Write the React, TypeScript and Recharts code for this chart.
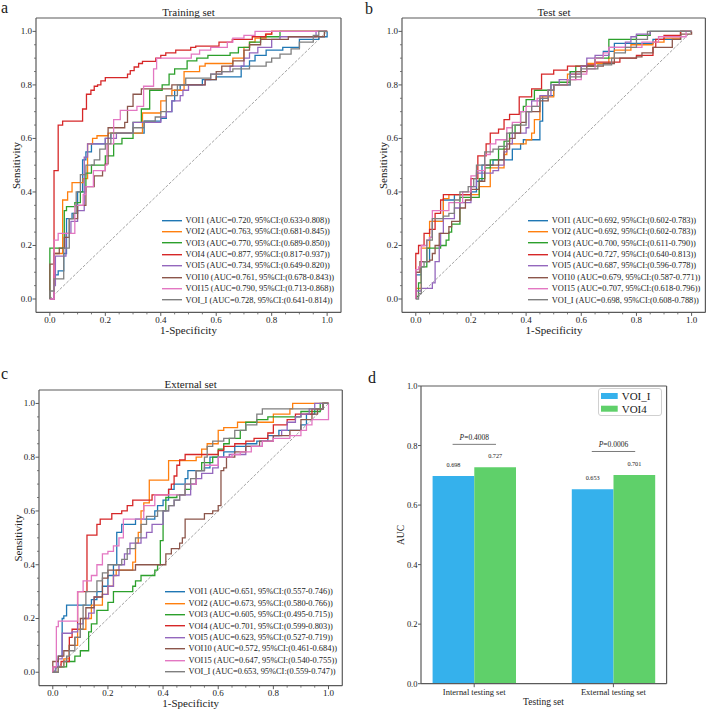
import React from 'react';
import { LineChart, Line, XAxis, YAxis, ReferenceLine, Legend, BarChart, Bar, LabelList } from 'recharts';

const FONT = "'Liberation Serif', 'Times New Roman', Times, serif";
const FRAME = '#5a5a5a';
const INK = '#1a1a1a';

const models = ['VOI1', 'VOI2', 'VOI3', 'VOI4', 'VOI5', 'VOI10', 'VOI15', 'VOI_I'];
const modelColors = ['#1f77b4', '#ff7f0e', '#2ca02c', '#d62728', '#9467bd', '#8c564b', '#e377c2', '#7f7f7f'];

// AUC + 95% CI per model, one set of arrays per cohort
const trainAuc = [0.720, 0.763, 0.770, 0.877, 0.734, 0.761, 0.790, 0.728];
const trainLo = [0.633, 0.681, 0.689, 0.817, 0.649, 0.678, 0.713, 0.641];
const trainHi = [0.808, 0.845, 0.850, 0.937, 0.820, 0.843, 0.868, 0.814];

const testAuc = [0.692, 0.692, 0.700, 0.727, 0.687, 0.679, 0.707, 0.698];
const testLo = [0.602, 0.602, 0.611, 0.640, 0.596, 0.587, 0.618, 0.608];
const testHi = [0.783, 0.783, 0.790, 0.813, 0.778, 0.771, 0.796, 0.788];

const extAuc = [0.651, 0.673, 0.605, 0.701, 0.623, 0.572, 0.647, 0.653];
const extLo = [0.557, 0.580, 0.495, 0.599, 0.527, 0.461, 0.540, 0.559];
const extHi = [0.746, 0.766, 0.715, 0.803, 0.719, 0.684, 0.755, 0.747];

// ROC points [fpr, tpr] (tpr reached at that fpr)
const trainCurves: number[][][] = [
  // VOI1
  [[0,0],[0.015,0.09],[0.03,0.105],[0.05,0.17],[0.06,0.3],[0.08,0.32],[0.1,0.4],[0.118,0.52],[0.13,0.55],[0.15,0.58],[0.2,0.6],[0.22,0.62],[0.34,0.665],[0.4,0.675],[0.42,0.7],[0.44,0.74],[0.45,0.78],[0.47,0.8],[0.55,0.82],[0.6,0.83],[0.69,0.87],[0.72,0.89],[0.74,0.91],[0.78,0.93],[0.84,0.94],[0.9,0.97],[0.97,0.98],[1,1]],
  // VOI2
  [[0,0],[0.015,0.17],[0.046,0.37],[0.064,0.4],[0.08,0.435],[0.12,0.45],[0.136,0.58],[0.154,0.6],[0.17,0.61],[0.21,0.62],[0.334,0.695],[0.4,0.74],[0.42,0.76],[0.44,0.78],[0.484,0.85],[0.54,0.87],[0.56,0.88],[0.66,0.9],[0.7,0.94],[0.72,0.96],[0.74,0.975],[0.78,0.99],[0.8,1],[1,1]],
  // VOI3
  [[0,0],[0,0.19],[0.052,0.33],[0.06,0.345],[0.09,0.36],[0.11,0.4],[0.13,0.47],[0.15,0.5],[0.2,0.535],[0.23,0.58],[0.26,0.6],[0.3,0.66],[0.33,0.71],[0.36,0.78],[0.405,0.8],[0.43,0.84],[0.45,0.86],[0.495,0.89],[0.53,0.9],[0.57,0.91],[0.65,0.92],[0.68,0.94],[0.72,0.96],[0.76,0.98],[0.83,1],[1,1]],
  // VOI4
  [[0,0],[0.015,0.48],[0.03,0.65],[0.046,0.665],[0.118,0.71],[0.132,0.765],[0.148,0.78],[0.16,0.795],[0.172,0.8],[0.184,0.815],[0.2,0.827],[0.28,0.84],[0.29,0.853],[0.304,0.867],[0.32,0.88],[0.334,0.888],[0.382,0.9],[0.4,0.91],[0.418,0.92],[0.454,0.93],[0.508,0.94],[0.526,0.945],[0.61,0.96],[0.658,0.97],[0.73,0.98],[0.778,0.99],[0.8,1],[1,1]],
  // VOI5
  [[0,0],[0.015,0.05],[0.02,0.16],[0.058,0.245],[0.076,0.29],[0.1,0.33],[0.124,0.53],[0.136,0.58],[0.2,0.6],[0.24,0.62],[0.3,0.66],[0.4,0.68],[0.42,0.7],[0.44,0.74],[0.47,0.76],[0.48,0.78],[0.5,0.8],[0.56,0.82],[0.58,0.84],[0.62,0.85],[0.65,0.87],[0.7,0.9],[0.72,0.92],[0.75,0.94],[0.8,0.97],[0.83,0.98],[0.96,1],[1,1]],
  // VOI10
  [[0,0],[0,0.13],[0.015,0.17],[0.034,0.19],[0.052,0.23],[0.07,0.3],[0.1,0.35],[0.13,0.42],[0.16,0.46],[0.19,0.48],[0.2,0.505],[0.21,0.64],[0.27,0.66],[0.28,0.72],[0.3,0.765],[0.33,0.785],[0.44,0.8],[0.56,0.82],[0.6,0.85],[0.62,0.87],[0.66,0.89],[0.7,0.93],[0.72,0.95],[0.76,0.97],[0.86,0.98],[0.99,1],[1,1]],
  // VOI15
  [[0,0],[0.015,0.22],[0.03,0.245],[0.09,0.35],[0.12,0.39],[0.13,0.42],[0.157,0.48],[0.2,0.5],[0.206,0.58],[0.23,0.67],[0.254,0.705],[0.314,0.72],[0.338,0.795],[0.374,0.86],[0.385,0.9],[0.51,0.915],[0.54,0.93],[0.58,0.94],[0.64,0.96],[0.66,0.975],[0.7,0.985],[0.74,1],[1,1]],
  // VOI_I
  [[0,0],[0,0.03],[0.015,0.075],[0.05,0.19],[0.07,0.3],[0.085,0.32],[0.095,0.4],[0.11,0.465],[0.13,0.5],[0.16,0.52],[0.18,0.56],[0.2,0.58],[0.22,0.62],[0.3,0.64],[0.34,0.665],[0.38,0.68],[0.4,0.7],[0.42,0.76],[0.46,0.8],[0.49,0.825],[0.58,0.84],[0.62,0.85],[0.66,0.86],[0.72,0.87],[0.78,0.885],[0.8,0.9],[0.83,0.915],[0.87,0.935],[0.9,0.96],[0.95,0.985],[0.97,1],[1,1]],
];

const testCurves: number[][][] = [
  // VOI1
  [[0,0],[0,0.09],[0.02,0.14],[0.05,0.23],[0.06,0.29],[0.1,0.37],[0.14,0.39],[0.2,0.4],[0.22,0.44],[0.24,0.5],[0.28,0.52],[0.35,0.56],[0.38,0.58],[0.39,0.595],[0.45,0.665],[0.46,0.76],[0.5,0.8],[0.56,0.85],[0.6,0.87],[0.65,0.9],[0.68,0.925],[0.72,0.955],[0.86,0.97],[0.96,1],[1,1]],
  // VOI2
  [[0,0],[0,0.04],[0.02,0.19],[0.05,0.29],[0.1,0.375],[0.12,0.39],[0.23,0.42],[0.27,0.49],[0.32,0.54],[0.33,0.58],[0.4,0.595],[0.42,0.62],[0.43,0.67],[0.45,0.755],[0.5,0.8],[0.55,0.84],[0.6,0.87],[0.62,0.88],[0.7,0.9],[0.72,0.93],[0.78,0.95],[0.86,0.96],[0.9,0.975],[0.96,1],[1,1]],
  // VOI3
  [[0,0],[0,0.01],[0.01,0.06],[0.02,0.12],[0.04,0.19],[0.09,0.2],[0.11,0.22],[0.12,0.25],[0.13,0.28],[0.16,0.38],[0.23,0.45],[0.25,0.49],[0.27,0.52],[0.3,0.56],[0.32,0.59],[0.34,0.62],[0.36,0.65],[0.38,0.7],[0.39,0.72],[0.4,0.745],[0.43,0.78],[0.49,0.81],[0.56,0.85],[0.58,0.87],[0.65,0.9],[0.7,0.97],[0.8,0.985],[0.85,1],[1,1]],
  // VOI4
  [[0,0],[0,0.17],[0.01,0.2],[0.03,0.245],[0.05,0.26],[0.07,0.32],[0.09,0.37],[0.1,0.39],[0.2,0.45],[0.225,0.535],[0.255,0.58],[0.27,0.62],[0.3,0.635],[0.32,0.67],[0.34,0.69],[0.375,0.755],[0.42,0.785],[0.456,0.84],[0.5,0.855],[0.55,0.87],[0.62,0.875],[0.65,0.885],[0.74,0.9],[0.8,0.91],[0.86,0.94],[0.87,0.97],[0.9,0.985],[0.96,1],[1,1]],
  // VOI5
  [[0,0],[0,0.03],[0.02,0.04],[0.06,0.06],[0.07,0.14],[0.085,0.2],[0.09,0.245],[0.1,0.3],[0.14,0.34],[0.16,0.36],[0.2,0.42],[0.22,0.47],[0.28,0.48],[0.3,0.5],[0.32,0.55],[0.33,0.58],[0.35,0.62],[0.4,0.64],[0.41,0.7],[0.42,0.74],[0.45,0.76],[0.49,0.8],[0.52,0.82],[0.56,0.84],[0.6,0.87],[0.62,0.9],[0.65,0.91],[0.7,0.94],[0.76,0.96],[0.78,0.98],[0.8,0.99],[0.85,1],[1,1]],
  // VOI10
  [[0,0],[0,0.1],[0.015,0.14],[0.05,0.145],[0.06,0.17],[0.07,0.2],[0.085,0.245],[0.12,0.27],[0.13,0.29],[0.16,0.34],[0.18,0.37],[0.2,0.41],[0.23,0.44],[0.25,0.5],[0.3,0.52],[0.32,0.56],[0.34,0.6],[0.36,0.62],[0.38,0.66],[0.4,0.7],[0.45,0.74],[0.48,0.78],[0.5,0.8],[0.55,0.82],[0.58,0.85],[0.62,0.87],[0.68,0.88],[0.72,0.9],[0.8,0.905],[0.82,0.92],[0.86,0.94],[0.93,0.97],[0.96,0.99],[1,1]],
  // VOI15
  [[0,0],[0,0.11],[0.01,0.12],[0.02,0.2],[0.04,0.22],[0.05,0.23],[0.06,0.33],[0.12,0.36],[0.17,0.4],[0.2,0.46],[0.22,0.48],[0.25,0.54],[0.27,0.58],[0.29,0.595],[0.33,0.64],[0.35,0.66],[0.38,0.7],[0.4,0.72],[0.44,0.75],[0.48,0.78],[0.5,0.8],[0.55,0.82],[0.6,0.84],[0.62,0.86],[0.65,0.9],[0.68,0.92],[0.7,0.94],[0.82,0.96],[0.88,0.98],[0.98,1],[1,1]],
  // VOI_I
  [[0,0],[0.01,0.02],[0.02,0.12],[0.03,0.14],[0.04,0.22],[0.06,0.3],[0.1,0.31],[0.12,0.32],[0.14,0.37],[0.16,0.4],[0.19,0.42],[0.21,0.45],[0.22,0.5],[0.25,0.55],[0.28,0.56],[0.3,0.57],[0.33,0.62],[0.35,0.65],[0.4,0.7],[0.42,0.72],[0.45,0.75],[0.48,0.78],[0.5,0.8],[0.56,0.83],[0.6,0.86],[0.66,0.875],[0.71,0.9],[0.72,0.92],[0.76,0.94],[0.8,0.97],[0.84,1],[1,1]],
];

const extCurves: number[][][] = [
  // VOI1
  [[0,0],[0.01,0.02],[0.02,0.06],[0.034,0.2],[0.04,0.21],[0.05,0.25],[0.14,0.27],[0.16,0.3],[0.18,0.32],[0.2,0.36],[0.22,0.4],[0.232,0.52],[0.25,0.55],[0.3,0.57],[0.37,0.6],[0.38,0.62],[0.4,0.64],[0.42,0.68],[0.44,0.7],[0.48,0.72],[0.49,0.75],[0.55,0.76],[0.57,0.8],[0.62,0.82],[0.66,0.84],[0.7,0.85],[0.74,0.86],[0.78,0.88],[0.82,0.9],[0.9,0.92],[0.92,0.96],[0.95,0.98],[0.98,1],[1,1]],
  // VOI2
  [[0,0],[0.02,0.02],[0.04,0.05],[0.06,0.1],[0.09,0.16],[0.12,0.2],[0.14,0.25],[0.18,0.29],[0.2,0.32],[0.22,0.36],[0.23,0.38],[0.29,0.41],[0.3,0.48],[0.31,0.52],[0.32,0.6],[0.33,0.63],[0.35,0.715],[0.42,0.787],[0.52,0.8],[0.54,0.83],[0.56,0.85],[0.6,0.9],[0.62,0.91],[0.67,0.93],[0.8,0.96],[0.86,0.98],[0.87,1],[1,1]],
  // VOI3
  [[0,0],[0.01,0.02],[0.05,0.04],[0.08,0.06],[0.1,0.08],[0.13,0.15],[0.14,0.18],[0.16,0.23],[0.2,0.26],[0.22,0.3],[0.29,0.32],[0.3,0.34],[0.32,0.36],[0.37,0.38],[0.38,0.4],[0.39,0.49],[0.4,0.6],[0.41,0.65],[0.45,0.66],[0.48,0.68],[0.5,0.7],[0.52,0.75],[0.54,0.78],[0.58,0.8],[0.6,0.83],[0.62,0.85],[0.64,0.87],[0.68,0.9],[0.7,0.93],[0.74,0.94],[0.78,0.95],[0.9,0.97],[0.97,1],[1,1]],
  // VOI4
  [[0,0],[0,0.02],[0.03,0.04],[0.06,0.13],[0.07,0.16],[0.09,0.3],[0.124,0.51],[0.16,0.55],[0.172,0.57],[0.214,0.59],[0.25,0.6],[0.27,0.62],[0.29,0.64],[0.36,0.66],[0.42,0.68],[0.43,0.7],[0.44,0.73],[0.45,0.77],[0.46,0.79],[0.48,0.81],[0.6,0.825],[0.62,0.84],[0.66,0.85],[0.7,0.86],[0.73,0.87],[0.78,0.89],[0.8,0.92],[0.85,0.94],[0.88,0.96],[0.94,0.98],[0.98,1],[1,1]],
  // VOI5
  [[0,0],[0.01,0.02],[0.02,0.05],[0.034,0.145],[0.07,0.15],[0.09,0.18],[0.11,0.2],[0.13,0.22],[0.15,0.28],[0.18,0.29],[0.2,0.32],[0.22,0.36],[0.24,0.4],[0.26,0.44],[0.28,0.48],[0.32,0.5],[0.34,0.52],[0.36,0.55],[0.4,0.6],[0.42,0.62],[0.44,0.64],[0.46,0.66],[0.5,0.7],[0.52,0.72],[0.54,0.74],[0.58,0.76],[0.6,0.8],[0.64,0.81],[0.7,0.84],[0.76,0.86],[0.8,0.88],[0.83,0.9],[0.85,0.93],[0.88,0.95],[0.9,0.96],[0.93,0.98],[0.95,1],[1,1]],
  // VOI10
  [[0,0],[0,0.04],[0.02,0.06],[0.04,0.08],[0.06,0.1],[0.08,0.13],[0.1,0.2],[0.12,0.24],[0.15,0.28],[0.18,0.35],[0.2,0.38],[0.3,0.4],[0.41,0.44],[0.43,0.46],[0.46,0.48],[0.47,0.5],[0.48,0.57],[0.55,0.59],[0.58,0.6],[0.6,0.62],[0.61,0.75],[0.62,0.76],[0.63,0.8],[0.66,0.82],[0.7,0.84],[0.75,0.86],[0.8,0.88],[0.86,0.9],[0.9,0.94],[0.94,0.96],[0.96,0.98],[0.98,1],[1,1]],
  // VOI15
  [[0,0],[0,0.02],[0.013,0.17],[0.02,0.19],[0.09,0.3],[0.11,0.34],[0.14,0.36],[0.16,0.4],[0.18,0.44],[0.2,0.45],[0.22,0.47],[0.24,0.5],[0.256,0.57],[0.33,0.62],[0.37,0.66],[0.48,0.7],[0.52,0.75],[0.55,0.77],[0.6,0.8],[0.65,0.81],[0.68,0.82],[0.72,0.84],[0.76,0.86],[0.8,0.87],[0.86,0.88],[0.9,0.9],[0.92,0.92],[0.94,0.94],[1,1]],
  // VOI_I
  [[0,0],[0.02,0.02],[0.04,0.04],[0.05,0.06],[0.06,0.08],[0.08,0.13],[0.1,0.16],[0.11,0.25],[0.12,0.3],[0.16,0.34],[0.18,0.37],[0.2,0.4],[0.25,0.42],[0.27,0.46],[0.3,0.5],[0.32,0.55],[0.34,0.58],[0.38,0.6],[0.42,0.62],[0.44,0.64],[0.46,0.66],[0.48,0.7],[0.5,0.72],[0.52,0.75],[0.55,0.8],[0.56,0.84],[0.58,0.86],[0.62,0.87],[0.66,0.9],[0.7,0.92],[0.74,0.96],[0.76,0.98],[0.98,1],[1,1]],
];

const rocTicks = [0, 0.05, 0.1, 0.15, 0.2, 0.25, 0.3, 0.35, 0.4, 0.45, 0.5, 0.55, 0.6, 0.65, 0.7, 0.75, 0.8, 0.85, 0.9, 0.95, 1];

// panel d
const barGroups = ['Internal testing set', 'External testing set'];
const barVoiI = [0.698, 0.653];
const barVoi4 = [0.727, 0.701];
const pValues = ['0.4008', '0.0006'];
const pLineLevel = [0.804, 0.78];
const barTicks = [0, 0.2, 0.4, 0.6, 0.8, 1];
const BLUE = '#35b1ec';
const GREEN = '#5fd06a';

const isMajor = (v: number) => Math.round(v * 100) % 20 === 0;

const RocTickX = (props: any) => {
  const { x, y, payload } = props;
  const v = payload.value;
  const major = isMajor(v);
  return (
    <g>
      <line x1={x} x2={x} y1={y} y2={y + (major ? 3.5 : 2)} stroke={FRAME} strokeWidth={major ? 1 : 0.8} />
      {major && (
        <text x={x} y={y + 10.5} textAnchor="middle" fontSize={9} fontFamily={FONT} fill={INK}>{v.toFixed(1)}</text>
      )}
    </g>
  );
};

const RocTickY = (props: any) => {
  const { x, y, payload } = props;
  const v = payload.value;
  const major = isMajor(v);
  return (
    <g>
      <line x1={x - (major ? 3.5 : 2)} x2={x} y1={y} y2={y} stroke={FRAME} strokeWidth={major ? 1 : 0.8} />
      {major && (
        <text x={x - 4} y={y + 3} textAnchor="end" fontSize={9} fontFamily={FONT} fill={INK}>{v.toFixed(1)}</text>
      )}
    </g>
  );
};

const RocLegend = ({ payload }: any) => {
  const items = [...(payload || [])].sort(
    (a: any, b: any) => models.indexOf(String(a.value).split(' ')[0]) - models.indexOf(String(b.value).split(' ')[0])
  );
  return (
    <div style={{ fontFamily: FONT, fontSize: 8.4, color: INK }}>
      {items.map((it: any) => (
        <div key={it.value} style={{ display: 'flex', alignItems: 'center', height: 11.4, whiteSpace: 'nowrap' }}>
          <svg width={23.5} height={11.4} style={{ flex: 'none' }}>
            <line x1={0} x2={20} y1={5.7} y2={5.7} stroke={it.color} strokeWidth={1.4} />
          </svg>
          <span>{it.value}</span>
        </div>
      ))}
    </div>
  );
};

interface RocProps {
  fx: number; fy: number; fw: number; fh: number;
  curves: number[][][]; auc: number[]; lo: number[]; hi: number[];
}

const PAD_L = 34, PAD_T = 4, PAD_R = 4, PAD_B = 28;

function RocPanel({ fx, fy, fw, fh, curves, auc, lo, hi }: RocProps) {
  const series = models.map((m, i) => ({
    name: `${m} (AUC=${auc[i].toFixed(3)}, 95%CI:(${lo[i].toFixed(3)}-${hi[i].toFixed(3)}))`,
    color: modelColors[i],
    data: curves[i].map(([x, y]) => ({ x, y })),
  }));
  const axisLine = { stroke: FRAME, strokeWidth: 1.2 };
  return (
    <div style={{ position: 'absolute', left: fx - PAD_L, top: fy - PAD_T }}>
      <LineChart width={fw + PAD_L + PAD_R} height={fh + PAD_T + PAD_B} margin={{ top: PAD_T - 1, right: PAD_R - 1, left: 0, bottom: 0 }}>
        <XAxis dataKey="x" type="number" domain={[-0.05, 1.05]} allowDataOverflow ticks={rocTicks} interval={0}
          tickSize={0} tickMargin={0} tickLine={false} tick={RocTickX} height={PAD_B} axisLine={axisLine} />
        <XAxis xAxisId="top" orientation="top" type="number" domain={[0, 1]} height={1} tick={false} tickLine={false} axisLine={axisLine} />
        <YAxis type="number" domain={[-0.05, 1.05]} allowDataOverflow ticks={rocTicks} interval={0}
          tickSize={0} tickMargin={0} tickLine={false} tick={RocTickY} width={PAD_L} axisLine={axisLine} />
        <YAxis yAxisId="right" orientation="right" type="number" domain={[0, 1]} width={1} tick={false} tickLine={false} axisLine={axisLine} />
        <ReferenceLine segment={[{ x: 0, y: 0 }, { x: 1, y: 1 }]} stroke="#8a8a8a" strokeDasharray="3 1.6" strokeWidth={0.8} />
        {series.map((s) => (
          <Line key={s.name} data={s.data} dataKey="y" name={s.name} type="stepAfter" stroke={s.color}
            strokeWidth={1.3} dot={false} activeDot={false} isAnimationActive={false} />
        ))}
        <Legend layout="vertical" align="center" verticalAlign="middle" content={RocLegend}
          wrapperStyle={{ left: PAD_L + 126, top: PAD_T + 202 - 5.7, width: 200 }} />
      </LineChart>
    </div>
  );
}

const BarTickX = (props: any) => {
  const { x, y, payload } = props;
  return (
    <g>
      <line x1={x} x2={x} y1={y} y2={y + 3.5} stroke={FRAME} />
      <text x={x} y={y + 11} textAnchor="middle" fontSize={8.5} fontFamily={FONT} fill={INK}>{payload.value}</text>
    </g>
  );
};

const BarTickY = (props: any) => {
  const { x, y, payload } = props;
  return (
    <g>
      <line x1={x - 3} x2={x} y1={y} y2={y} stroke={FRAME} />
      <text x={x - 3.5} y={y + 3} textAnchor="end" fontSize={8.5} fontFamily={FONT} fill={INK}>{Number(payload.value).toFixed(1)}</text>
    </g>
  );
};

const PAnnot = (props: any) => {
  const vb = props.viewBox ?? props;
  const { x, y, height } = vb;
  const idx = props.index ?? barVoi4.indexOf(Number(props.value));
  if (idx < 0 || !height) return null;
  const k = height / barVoi4[idx];
  const base = y + height;
  const ly = base - pLineLevel[idx] * k;
  return (
    <g>
      <line x1={x - 21.7} x2={x + 21.7} y1={ly} y2={ly} stroke="#7a7a7a" strokeWidth={1} />
      <text x={x} y={ly - 4} textAnchor="middle" fontSize={7.5} fontFamily={FONT} fill={INK}>
        <tspan fontStyle="italic">P</tspan>={pValues[idx]}
      </text>
    </g>
  );
};

const BarLegend = () => (
  <svg width={64} height={28}>
    <rect x={0.5} y={0.5} width={63} height={27} rx={2.5} fill="#fff" stroke="#d0d0d0" />
    <rect x={3} y={5} width={16.7} height={6} fill={BLUE} />
    <text x={23.7} y={12.3} fontSize={11} fontFamily={FONT} fill={INK}>VOI_I</text>
    <rect x={3} y={17.7} width={16.7} height={6} fill={GREEN} />
    <text x={23.7} y={25} fontSize={11} fontFamily={FONT} fill={INK}>VOI4</text>
  </svg>
);

function AucBars() {
  const fx = 420.7, fy = 386, fw = 245.6, fh = 297.7;
  const data = barGroups.map((g, i) => ({ name: g, voiI: barVoiI[i], voi4: barVoi4[i] }));
  const axisLine = { stroke: FRAME, strokeWidth: 1.2 };
  return (
    <div style={{ position: 'absolute', left: fx - PAD_L, top: fy - PAD_T }}>
      <BarChart width={fw + PAD_L + PAD_R} height={fh + PAD_T + PAD_B} data={data}
        margin={{ top: PAD_T - 1, right: PAD_R - 1, left: 0, bottom: 0 }} barGap={0} barSize={41.7}>
        <XAxis dataKey="name" padding={{ left: -16.4, right: -16.4 }} interval={0} tickSize={0} tickMargin={0}
          tickLine={false} tick={BarTickX} height={PAD_B} axisLine={axisLine} />
        <XAxis xAxisId="top" orientation="top" dataKey="name" height={1} tick={false} tickLine={false} axisLine={axisLine} />
        <YAxis type="number" domain={[0, 1]} ticks={barTicks} interval={0} tickSize={0} tickMargin={0}
          tickLine={false} tick={BarTickY} width={PAD_L} axisLine={axisLine} />
        <YAxis yAxisId="right" orientation="right" type="number" domain={[0, 1]} width={1} tick={false} tickLine={false} axisLine={axisLine} />
        <Bar dataKey="voiI" name="VOI_I" fill={BLUE} isAnimationActive={false}>
          <LabelList dataKey="voiI" position="top" offset={9} fontSize={6.2} fontFamily={FONT} fill={INK}
            formatter={(v: any) => Number(v).toFixed(3)} />
        </Bar>
        <Bar dataKey="voi4" name="VOI4" fill={GREEN} isAnimationActive={false}>
          <LabelList dataKey="voi4" position="top" offset={9} fontSize={6.2} fontFamily={FONT} fill={INK}
            formatter={(v: any) => Number(v).toFixed(3)} />
          <LabelList dataKey="voi4" content={PAnnot} />
        </Bar>
        <Legend layout="vertical" align="center" verticalAlign="middle" content={BarLegend}
          wrapperStyle={{ left: 598.3 - (fx - PAD_L), top: 388.3 - (fy - PAD_T), width: 64 }} />
      </BarChart>
    </div>
  );
}

const txt = { fontFamily: FONT, fill: INK } as const;

export default function App() {
  return (
    <div style={{ position: 'absolute', left: 0, top: 0, width: 708, height: 710, overflow: 'hidden', background: '#fff' }}>
      <RocPanel fx={36} fy={18.3} fw={305} fh={294.4} curves={trainCurves} auc={trainAuc} lo={trainLo} hi={trainHi} />
      <RocPanel fx={402.3} fy={18.3} fw={303.4} fh={294.4} curves={testCurves} auc={testAuc} lo={testLo} hi={testHi} />
      <RocPanel fx={39} fy={390} fw={303.3} fh={295.7} curves={extCurves} auc={extAuc} lo={extLo} hi={extHi} />
      <AucBars />
      <svg width={708} height={710} style={{ position: 'absolute', left: 0, top: 0, pointerEvents: 'none' }}>
        <text x={1} y={12.5} fontSize={16} {...txt}>a</text>
        <text x={365} y={14} fontSize={16} {...txt}>b</text>
        <text x={1} y={378.5} fontSize={16} {...txt}>c</text>
        <text x={368} y={383} fontSize={16} {...txt}>d</text>

        <text x={188.5} y={15.5} fontSize={11} textAnchor="middle" {...txt}>Training set</text>
        <text x={554} y={15.5} fontSize={11} textAnchor="middle" {...txt}>Test set</text>
        <text x={190.7} y={387.5} fontSize={11} textAnchor="middle" {...txt}>External set</text>

        <text x={20} y={165.5} fontSize={11} textAnchor="middle" transform="rotate(-90 20 165.5)" {...txt}>Sensitivity</text>
        <text x={386.5} y={165.5} fontSize={11} textAnchor="middle" transform="rotate(-90 386.5 165.5)" {...txt}>Sensitivity</text>
        <text x={21.5} y={538} fontSize={11} textAnchor="middle" transform="rotate(-90 21.5 538)" {...txt}>Sensitivity</text>

        <text x={188.5} y={333.5} fontSize={11} textAnchor="middle" {...txt}>1-Specificity</text>
        <text x={554} y={333.5} fontSize={11} textAnchor="middle" {...txt}>1-Specificity</text>
        <text x={190.7} y={706.5} fontSize={11} textAnchor="middle" {...txt}>1-Specificity</text>

        <text x={404} y={535} fontSize={9.5} textAnchor="middle" transform="rotate(-90 404 535)" {...txt}>AUC</text>
        <text x={543.5} y={704.5} fontSize={9.5} textAnchor="middle" {...txt}>Testing set</text>
      </svg>
    </div>
  );
}
